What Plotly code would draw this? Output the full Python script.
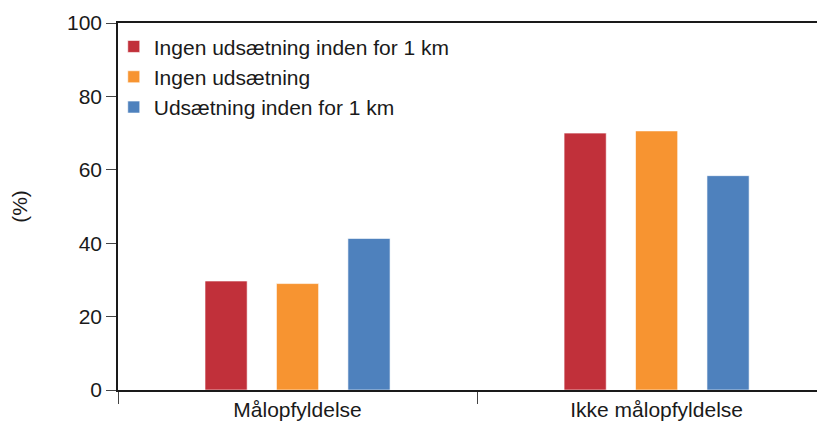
import plotly.graph_objects as go

# Data
kategorier = ["Målopfyldelse", "Ikke målopfyldelse"]
serier = ["Ingen udsætning inden for 1 km", "Ingen udsætning", "Udsætning inden for 1 km"]
ingen_1km = [29.7, 70.0]
ingen = [29.0, 70.6]
udsaetning_1km = [41.3, 58.4]
farver = ["#C1303A", "#F79431", "#4E81BD"]

fig = go.Figure()
for navn, vaerdier, farve in zip(serier, [ingen_1km, ingen, udsaetning_1km], farver):
    fig.add_trace(go.Bar(
        x=kategorier, y=vaerdier, name=navn,
        marker=dict(color=farve, line=dict(color="rgba(255,255,255,0.6)", width=1)),
    ))

# siden har 8px body-margin, så figuren gøres tilsvarende mindre
fig.update_layout(
    width=817, height=415,
    margin=dict(l=110, r=0, t=15, b=33),
    barmode="group", bargap=0.403, bargroupgap=0.41,
    plot_bgcolor="white", paper_bgcolor="white",
    font=dict(family="Liberation Sans, Arial, sans-serif", size=21, color="#1a1a1a"),
    showlegend=True,
    legend=dict(x=-0.006, y=0.991, xanchor="left", yanchor="top",
                bgcolor="rgba(0,0,0,0)", font=dict(size=21), itemwidth=30),
)
fig.update_xaxes(
    range=[-0.5, 1.469], showline=True, linecolor="#1a1a1a", linewidth=1.5,
    mirror=True, ticks="outside", tickson="boundaries", ticklen=12,
    tickcolor="#444", showgrid=False, tickfont=dict(size=21),
)
fig.update_yaxes(
    range=[0, 100], dtick=20, showline=True, linecolor="#1a1a1a", linewidth=1.5,
    ticks="outside", ticklen=10, tickcolor="#444", showgrid=False, zeroline=False,
    title=dict(text="(%)", standoff=35, font=dict(size=21)), tickfont=dict(size=21),
)

fig.write_html("out.html")
